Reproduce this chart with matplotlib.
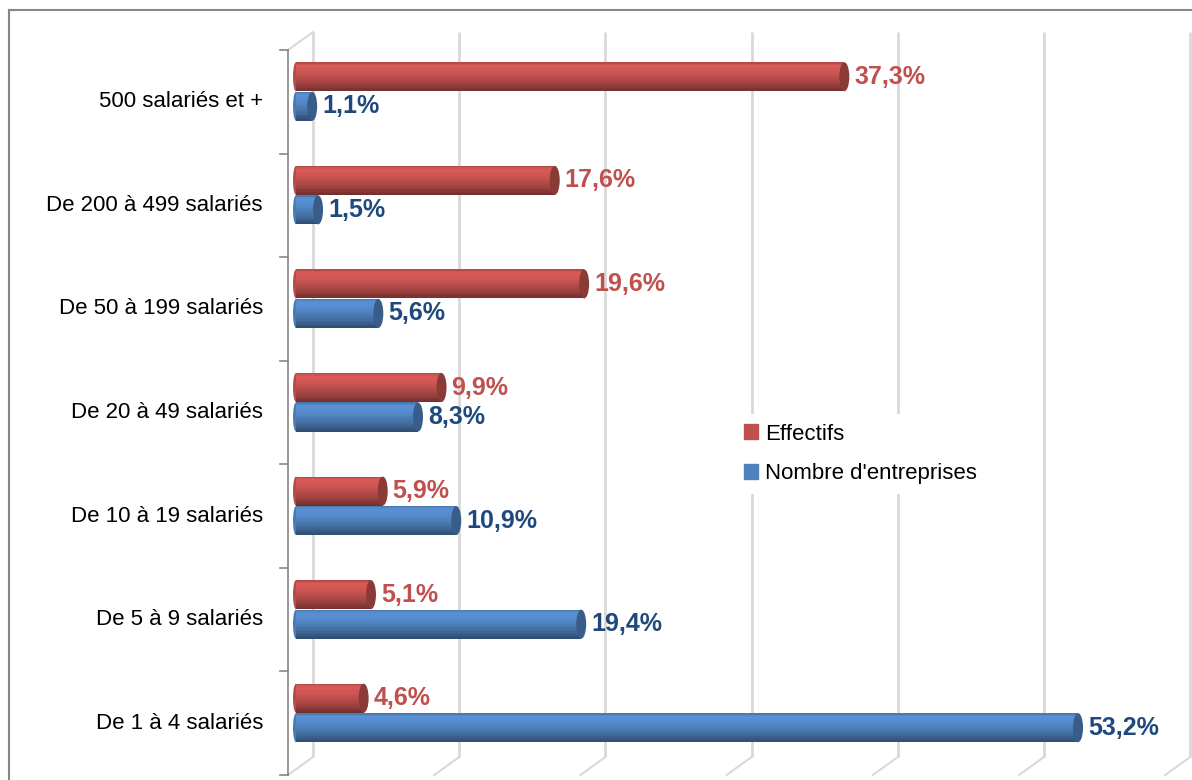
import numpy as np
import matplotlib
matplotlib.use("Agg")
import matplotlib.pyplot as plt
from matplotlib.patches import Ellipse, Patch
from matplotlib.lines import Line2D

# data (bottom -> top)
categories = ["De 1 à 4 salariés", "De 5 à 9 salariés", "De 10 à 19 salariés",
              "De 20 à 49 salariés", "De 50 à 199 salariés", "De 200 à 499 salariés",
              "500 salariés et +"]
effectifs = [4.6, 5.1, 5.9, 9.9, 19.6, 17.6, 37.3]
entreprises = [53.2, 19.4, 10.9, 8.3, 5.6, 1.5, 1.1]
grid_ticks = [0, 10, 20, 30, 40, 50, 60]

W, H = 1192, 780
PX = 14.7     # pixels per percent
PY = 103.57   # pixels per category
X0 = 296      # pixel of 0 %
Y0 = 775      # pixel of bottom category boundary

red = np.array([192, 80, 77]) / 255.
blue = np.array([79, 129, 189]) / 255.
red_txt = "#C0504D"
blue_txt = "#1F497D"

def dx(p):
    return p / PX

def dy(p):
    return p / PY

def xpix(p):
    return (p - X0) / PX

def ypix(p):
    return (Y0 - p) / PY - 0.5

fig = plt.figure(figsize=(W / 100, H / 100), dpi=100)
ax = fig.add_axes([0, 0, 1, 1])
ax.set_xlim(xpix(0), xpix(W))
ax.set_ylim(ypix(H), ypix(0))
ax.set_axis_off()

# outer frame
fig.add_artist(Line2D([9 / W, 9 / W], [0, 1 - 10 / H], color="#868686", lw=1.5))
fig.add_artist(Line2D([9 / W, 1], [1 - 10 / H, 1 - 10 / H], color="#868686", lw=1.5))

# 3D walls: gridlines on back wall + floor diagonals
gx, gy = dx(25), dy(18)
front_x = xpix(288)
y_bot, y_top = -0.5, len(categories) - 0.5
for g in grid_ticks:
    xb = front_x + g * 14.62 / PX + gx
    ax.plot([xb, xb], [y_bot + gy, y_top + gy], color="#D9D9D9", lw=2.0, zorder=1,
            solid_capstyle="butt")
    ax.plot([xb - gx, xb], [y_bot, y_bot + gy], color="#D9D9D9", lw=1.5, zorder=1)
ax.plot([front_x, front_x + gx], [y_top, y_top + gy], color="#D9D9D9", lw=1.5, zorder=1)

# front category axis
ax.plot([front_x, front_x], [y_bot, y_top], color="#868686", lw=1.2, zorder=2)
for k in range(len(categories) + 1):
    yb = k - 0.5
    ax.plot([front_x - dx(8), front_x], [yb, yb], color="#868686", lw=1.2, zorder=2)

stops_t = [0, 0.1, 0.35, 0.75, 1.0]
stops_f = [0.88, 1.13, 1.07, 0.82, 0.58]
nstrip = 20
bh = dy(29)
cap_w = dx(10)

def cylinder(y, v, base, z):
    ax.add_patch(Ellipse((0, y), cap_w * 0.6, bh, color=base * 0.95, lw=0, zorder=z))
    for k in range(nstrip):
        t = (k + 0.5) / nstrip
        c = np.clip(base * np.interp(t, stops_t, stops_f), 0, 1)
        ax.barh(y + bh / 2 - (k + 0.5) * bh / nstrip, v, height=bh / nstrip * 1.05,
                left=0, color=c, lw=0, zorder=z)
    ax.add_patch(Ellipse((v, y), cap_w, bh, color=np.clip(base * 0.72, 0, 1),
                         lw=0, zorder=z + 0.1))

label_font = ["Liberation Sans Narrow", "Liberation Sans", "DejaVu Sans"]
for i, (e, n) in enumerate(zip(effectifs, entreprises)):
    yr = i + dy(25)
    yb = i - dy(4.5)
    cylinder(yr, e, red, 3)
    cylinder(yb, n, blue, 4)
    ax.text(e + cap_w / 2 + dx(5), yr, f"{e:.1f}%".replace(".", ","), color=red_txt,
            fontsize=18, fontweight="bold", family=label_font, va="center", ha="left", zorder=6)
    ax.text(n + cap_w / 2 + dx(5), yb, f"{n:.1f}%".replace(".", ","), color=blue_txt,
            fontsize=18, fontweight="bold", family=label_font, va="center", ha="left", zorder=6)
    ax.text(xpix(263), i, categories[i], fontsize=16, family=["Liberation Sans", "DejaVu Sans"],
            ha="right", va="center", color="black")

handles = [Patch(color=red_txt), Patch(color="#4F81BD")]
leg = ax.legend(handles, ["Effectifs", "Nombre d'entreprises"], loc="center left",
                bbox_to_anchor=(734 / W, 1 - 454 / H), bbox_transform=fig.transFigure,
                frameon=True, facecolor="white", edgecolor="none", framealpha=1,
                prop={"family": ["Liberation Sans", "DejaVu Sans"], "size": 16},
                handlelength=0.65, handleheight=0.65, handletextpad=0.3,
                labelspacing=0.85, borderpad=0.45, borderaxespad=0)
leg.set_zorder(5)

fig.savefig("out.png", dpi=100)
